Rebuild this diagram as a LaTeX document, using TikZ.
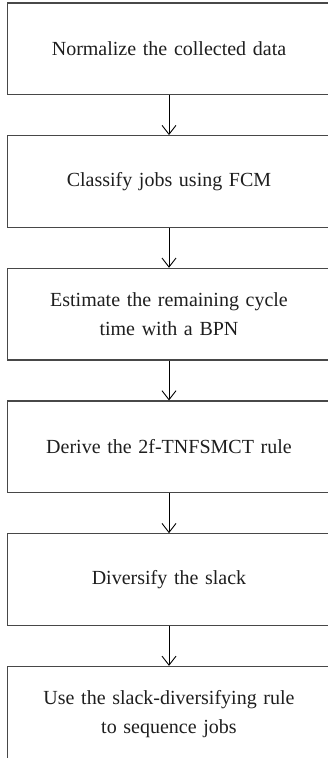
\documentclass[tikz,border=0pt]{standalone}
\usepackage{fontspec}
\setmainfont[WordSpace=0.85]{Liberation Serif}
\usetikzlibrary{arrows.meta}
\definecolor{boxgray}{RGB}{72,72,72}
\definecolor{textdark}{RGB}{30,30,30}
\begin{document}
\begin{tikzpicture}[x=1pt,y=1pt,
  stepbox/.style={draw=boxgray, line width=1.3pt, minimum width=323pt, minimum height=91.5pt,
    inner sep=0pt, align=center, text width=310pt, text=textdark, font=\fontsize{20}{29}\selectfont},
  flow/.style={-{Straight Barb[length=9pt,width=14pt]}, line width=0.9pt}]
\useasboundingbox (0,0) rectangle (327,-758);
\node[stepbox] (n1) at (169,-48.75) {Normalize the collected data};
\node[stepbox] (n2) at (169,-181.45) {Classify jobs using FCM};
\node[stepbox] (n3) at (169,-314.15) {Estimate the remaining cycle\\time with a BPN};
\node[stepbox] (n4) at (169,-446.85) {Derive the 2f-TNFSMCT rule};
\node[stepbox] (n5) at (169,-579.55) {Diversify the slack};
\node[stepbox, minimum height=96pt] (n6) at (169,-714.5) {Use the slack-diversifying rule\\to sequence jobs};
\draw[flow] (n1) -- (n2);
\draw[flow] (n2) -- (n3);
\draw[flow] (n3) -- (n4);
\draw[flow] (n4) -- (n5);
\draw[flow] (n5) -- (n6);
\end{tikzpicture}
\end{document}
